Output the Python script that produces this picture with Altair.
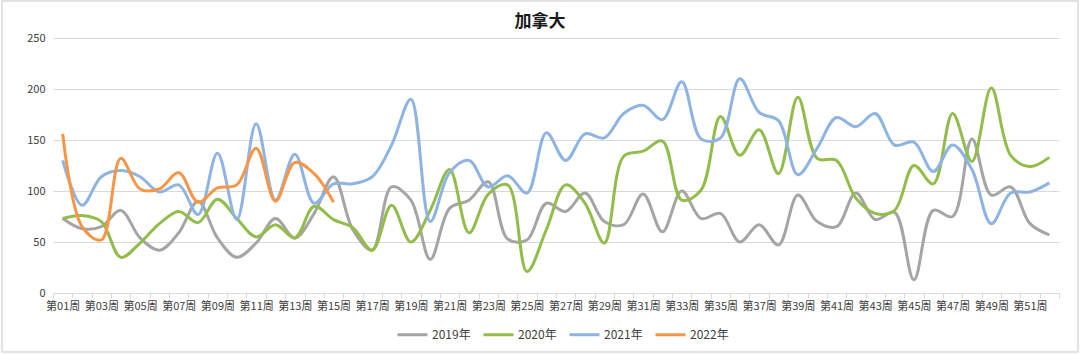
import altair as alt
import pandas as pd

weeks = [f"第{i:02d}周" for i in range(1, 53)]

y2019 = [73, 63, 65, 81, 54, 42, 59, 90, 54, 35, 49, 73, 54, 78, 114, 62, 42, 104, 91, 33,
         83, 91, 109, 53, 52, 88, 80, 98, 70, 67, 97, 60, 100, 73, 78, 50, 67, 47, 96, 70,
         65, 98, 72, 79, 13, 81, 75, 151, 96, 104, 68, 57]
y2020 = [73, 76, 70, 35, 49, 68, 80, 69, 92, 73, 55, 67, 54, 85, 72, 64, 42, 86, 50, 81,
         121, 59, 97, 106, 21, 62, 106, 88, 49, 134, 139, 149, 91, 101, 173, 135, 160, 117, 192, 132,
         130, 93, 78, 81, 125, 107, 176, 129, 201, 135, 124, 133]
y2021 = [130, 86, 114, 120, 114, 99, 106, 77, 137, 72, 166, 91, 136, 88, 107, 107, 114, 145, 190, 70,
         118, 130, 104, 115, 98, 157, 130, 156, 152, 176, 184, 170, 207, 151, 152, 210, 177, 169, 116, 142,
         172, 163, 176, 145, 148, 119, 145, 121, 68, 98, 99, 108]
y2022 = [156, 65, 52, 132, 102, 102, 118, 89, 103, 106, 142, 90, 128, 117, 89]

title_text = ["加拿大"]

series = {"2019年": y2019, "2020年": y2020, "2021年": y2021, "2022年": y2022}
years = list(series.keys())
colors = ["#a5a5a5", "#92bd4a", "#8eb4e3", "#f79646"]

rows = []
for name, vals in series.items():
    for w, v in zip(weeks, vals):
        rows.append({"week": w, "year": name, "value": v})
df = pd.DataFrame(rows)

W, H = 1006, 255

lines = alt.Chart(df).mark_line(strokeWidth=3, interpolate="catmull-rom").encode(
    x=alt.X("week:N", sort=weeks, title=None,
            scale=alt.Scale(domain=weeks, paddingInner=0, paddingOuter=0),
            axis=alt.Axis(labelAngle=0, labelOverlap=False, tickBand="extent",
                          labelExpr="parseInt(substring(datum.value,1,3)) % 2 == 1 ? datum.value : ''",
                          domainColor="#d9d9d9", tickColor="#d9d9d9", tickSize=5,
                          labelFontSize=11, labelColor="#404040", labelPadding=2,
                          grid=False)),
    y=alt.Y("value:Q", title=None,
            scale=alt.Scale(domain=[0, 250], nice=False),
            axis=alt.Axis(values=[0, 50, 100, 150, 200, 250], domain=False, ticks=False,
                          gridColor="#d9d9d9", labelFontSize=11, labelColor="#404040",
                          labelPadding=8)),
    color=alt.Color("year:N", sort=years,
                    scale=alt.Scale(domain=years, range=colors),
                    legend=alt.Legend(title=None, orient="none", legendX=343, legendY=280,
                                      direction="horizontal", symbolType="stroke",
                                      symbolStrokeWidth=3, symbolSize=900,
                                      labelFontSize=12, labelColor="#404040",
                                      columnPadding=6, labelOffset=3)),
    order=alt.Order("year:N"),
)

frame = alt.Chart(pd.DataFrame({"k": [0]})).mark_rect(
    fill=None, stroke="#d9d9d9", strokeWidth=1.5
).encode(
    x=alt.value(-51), x2=alt.value(1025), y=alt.value(-37), y2=alt.value(314)
)

title = alt.Chart(pd.DataFrame({"t": title_text})).mark_text(
    fontSize=17, fontWeight="bold", color="#1a1a1a", align="center", baseline="middle"
).encode(
    text="t:N", x=alt.value(487), y=alt.value(-16)
)

chart = alt.layer(frame, lines, title).properties(
    width=W, height=H,
    padding={"left": 53, "top": 38, "right": 21, "bottom": 61},
    autosize=alt.AutoSizeParams(type="none"),
).configure(font="Noto Sans CJK SC").configure_view(stroke=None)

chart.save("out.html", embed_options={"renderer": "svg", "actions": False})
